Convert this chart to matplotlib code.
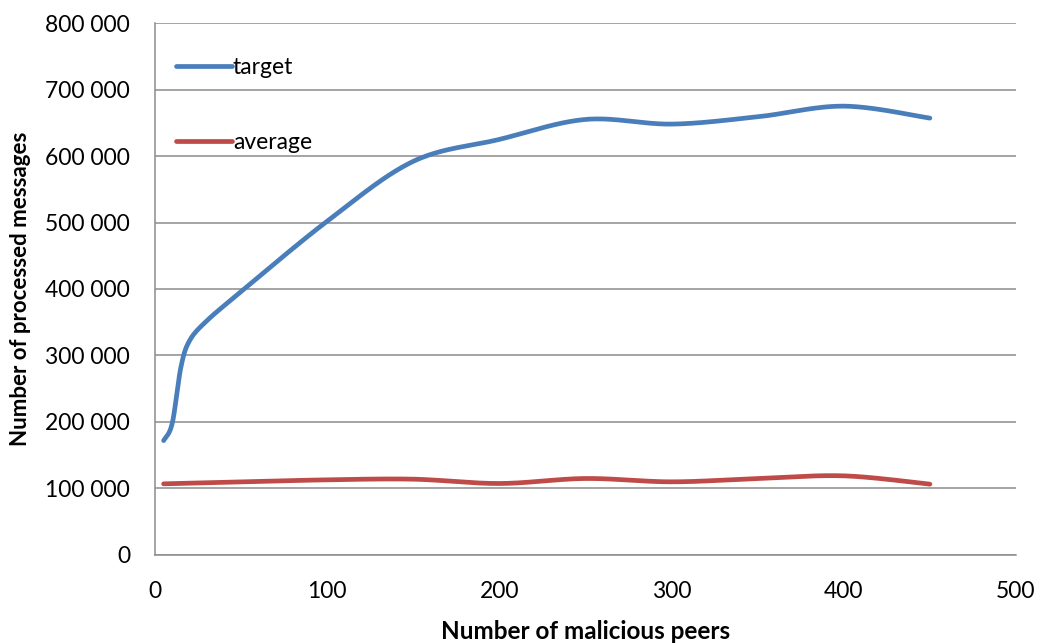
import numpy as np
import matplotlib
matplotlib.use("Agg")
import matplotlib.pyplot as plt
from matplotlib.ticker import FuncFormatter, MultipleLocator

peers_target = [5, 10, 15, 20, 30, 50, 100, 150, 200, 250, 300, 350, 400, 450]
target = [172000, 198000, 282000, 322000, 352000, 396000, 502000, 592000, 625000, 655000, 648000, 659000, 675000, 657000]
peers_average = [5, 50, 100, 150, 200, 250, 300, 350, 400, 450]
average = [107000, 110000, 113000, 114000, 107500, 115000, 110000, 115000, 119000, 106500]

series_names = ["target", "average"]
series_colors = ["#4A7EBB", "#BE4B48"]


def excel_smooth(xs, ys, n=40):
    xs = np.asarray(xs, float)
    ys = np.asarray(ys, float)
    px = np.concatenate([[xs[0]], xs, [xs[-1]]])
    py = np.concatenate([[ys[0]], ys, [ys[-1]]])
    ox, oy = [], []
    t = np.linspace(0, 1, n)
    for i in range(1, len(px) - 2):
        p0 = np.array([px[i - 1], py[i - 1]])
        p1 = np.array([px[i], py[i]])
        p2 = np.array([px[i + 1], py[i + 1]])
        p3 = np.array([px[i + 2], py[i + 2]])
        c1 = p1 + (p2 - p0) / 6.0
        c2 = p2 - (p3 - p1) / 6.0
        b = ((1 - t) ** 3)[:, None] * p1 + (3 * (1 - t) ** 2 * t)[:, None] * c1 \
            + (3 * (1 - t) * t ** 2)[:, None] * c2 + (t ** 3)[:, None] * p2
        ox.extend(b[:, 0]); oy.extend(b[:, 1])
    return np.array(ox), np.array(oy)


plt.rcParams['font.family'] = ['Lato', 'DejaVu Sans']

fig = plt.figure(figsize=(10.46, 6.43), dpi=100)
ax = fig.add_axes([0.1482, 0.1369, 0.8231, 0.8273])

for xs, vals, name, col in zip([peers_target, peers_average], [target, average],
                               series_names, series_colors):
    sx, sy = excel_smooth(xs, vals)
    ax.plot(sx, sy, color=col, lw=3.4, solid_capstyle='round', label=name)

ax.set_xlim(0, 500)
ax.set_ylim(0, 800000)
ax.xaxis.set_major_locator(MultipleLocator(100))
ax.yaxis.set_major_locator(MultipleLocator(100000))
ax.yaxis.set_major_formatter(FuncFormatter(lambda v, p: f"{int(v):,}".replace(",", " ")))

ax.grid(axis='y', color='#8C8C8C', lw=1.1)
ax.set_axisbelow(True)
for s in ['top', 'right']:
    ax.spines[s].set_visible(False)
for s in ['left', 'bottom']:
    ax.spines[s].set_color('#8C8C8C')
    ax.spines[s].set_linewidth(1.1)

ax.tick_params(axis='both', length=0, labelsize=16.5, colors='black')
ax.tick_params(axis='y', pad=18)
ax.tick_params(axis='x', pad=19)

ax.set_xlabel("Number of malicious peers", fontsize=17.5, fontweight='bold', labelpad=13)
ax.set_ylabel("Number of processed messages", fontsize=16, fontweight='bold', labelpad=10)

leg = ax.legend(frameon=False, loc='upper left', bbox_to_anchor=(0.0, 0.975),
                fontsize=16.5, handlelength=2.45, handletextpad=0.05, labelspacing=2.35)

fig.savefig("out.png", dpi=100)
